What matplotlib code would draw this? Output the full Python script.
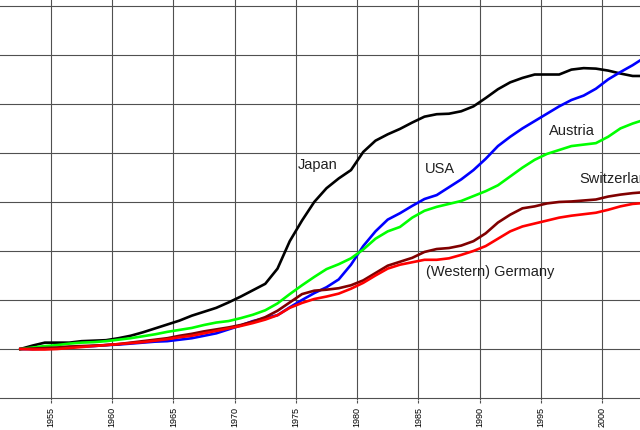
import matplotlib
matplotlib.use("Agg")
import matplotlib.pyplot as plt
import numpy as np

# yearly values (relative growth, 1952 = 0)
years = np.arange(1952, 2004)

japan = [0.00, 0.07, 0.13, 0.13, 0.13, 0.16, 0.17, 0.18, 0.22, 0.27,
         0.34, 0.42, 0.50, 0.58, 0.68, 0.76, 0.84, 0.95, 1.07, 1.20,
         1.33, 1.64, 2.20, 2.62, 3.00, 3.28, 3.48, 3.65, 4.02, 4.25,
         4.38, 4.49, 4.62, 4.74, 4.79, 4.80, 4.85, 4.95, 5.12, 5.30,
         5.44, 5.53, 5.60, 5.60, 5.60, 5.70, 5.73, 5.72, 5.68, 5.62,
         5.57, 5.57]
usa = [0.00, 0.00, 0.01, 0.02, 0.04, 0.05, 0.06, 0.08, 0.09, 0.11,
       0.13, 0.15, 0.16, 0.19, 0.22, 0.27, 0.32, 0.40, 0.48, 0.57,
       0.63, 0.69, 0.85, 1.00, 1.14, 1.26, 1.42, 1.72, 2.10, 2.40,
       2.64, 2.77, 2.92, 3.06, 3.14, 3.30, 3.46, 3.65, 3.88, 4.14,
       4.33, 4.50, 4.65, 4.80, 4.95, 5.08, 5.17, 5.31, 5.50, 5.65,
       5.79, 5.95]
austria = [0.00, 0.03, 0.06, 0.08, 0.11, 0.13, 0.14, 0.16, 0.19, 0.22,
           0.26, 0.30, 0.35, 0.39, 0.43, 0.49, 0.54, 0.57, 0.63, 0.70,
           0.79, 0.93, 1.12, 1.30, 1.47, 1.63, 1.73, 1.85, 2.03, 2.25,
           2.40, 2.49, 2.68, 2.82, 2.90, 2.96, 3.02, 3.12, 3.22, 3.34,
           3.52, 3.70, 3.86, 3.98, 4.06, 4.14, 4.17, 4.20, 4.33, 4.50,
           4.60, 4.68]
switzerland = [0.00, 0.01, 0.02, 0.03, 0.05, 0.06, 0.07, 0.08, 0.10, 0.13,
               0.16, 0.19, 0.22, 0.27, 0.31, 0.36, 0.40, 0.44, 0.49, 0.56,
               0.65, 0.78, 0.95, 1.12, 1.19, 1.21, 1.24, 1.30, 1.40, 1.55,
               1.70, 1.78, 1.86, 1.98, 2.04, 2.06, 2.11, 2.20, 2.36, 2.58,
               2.74, 2.87, 2.91, 2.97, 3.00, 3.01, 3.03, 3.05, 3.11, 3.15,
               3.18, 3.20]
germany = [0.00, -0.01, -0.01, 0.00, 0.02, 0.04, 0.06, 0.08, 0.10, 0.12,
           0.14, 0.17, 0.20, 0.24, 0.27, 0.32, 0.37, 0.42, 0.47, 0.53,
           0.60, 0.69, 0.84, 0.94, 1.02, 1.07, 1.13, 1.23, 1.35, 1.50,
           1.64, 1.72, 1.77, 1.82, 1.82, 1.85, 1.92, 2.00, 2.10, 2.25,
           2.40, 2.50, 2.56, 2.62, 2.68, 2.72, 2.75, 2.78, 2.84, 2.91,
           2.96, 2.98]

series = [("Japan", japan, "black"),
          ("USA", usa, "#0000ff"),
          ("Austria", austria, "#00ff00"),
          ("Switzerland", switzerland, "#800000"),
          ("(Western) Germany", germany, "#ff0000")]

# label anchor points (year, value)
label_pos = {"Japan": (1975.15, 3.76),
             "USA": (1985.5, 3.67),
             "Austria": (1995.7, 4.44),
             "Switzerland": (1998.15, 3.47),
             "(Western) Germany": (1985.65, 1.58)}

tick_years = np.arange(1955, 2005, 5)

plt.rcParams['font.family'] = ['Liberation Sans', 'DejaVu Sans']

fig = plt.figure(figsize=(6.4, 4.3), dpi=100)
ax = fig.add_axes([0, 30.5 / 430, 1, 399.5 / 430])

# values are plotted at mid-year
for name, vals, color in series:
    ax.plot(years + 0.5, vals, color=color, lw=1.9)

for name, (x, y) in label_pos.items():
    ax.text(x, y, name, fontsize=10.5, color='#202020', va='center', ha='left',
            clip_on=True)

ax.set_xticks(tick_years)
ax.set_xticklabels([str(y) for y in tick_years], rotation=90, fontsize=6.5)
ax.set_yticks(np.arange(-1, 8, 1))
ax.set_xlim(1950.84, 2003.1)
ax.set_ylim(-1.03, 7.12)
ax.tick_params(axis='y', left=False, labelleft=False)
ax.tick_params(axis='x', length=2.5, width=0.8, color='#505050', pad=3)
ax.grid(True, color='#505050', lw=0.8)
ax.set_axisbelow(True)
for s in ax.spines.values():
    s.set_visible(False)

fig.savefig("out.png", dpi=100)
